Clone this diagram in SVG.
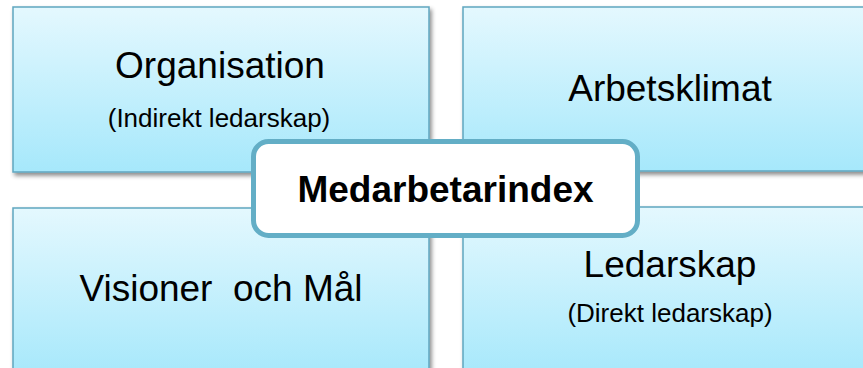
<svg xmlns="http://www.w3.org/2000/svg" width="863" height="368" viewBox="0 0 863 368">
<style>
.box{fill:url(#g);stroke:#5fa6c0;stroke-width:1.5;filter:url(#sh)}
.t{font-family:"Liberation Sans",Arial,sans-serif;fill:#000;text-anchor:middle}
.h{font-size:37px}
.s{font-size:26px}
.b{font-size:37px;font-weight:bold}
</style>
<defs>
<linearGradient id="g" x1="0" y1="0" x2="0" y2="1">
<stop offset="0" stop-color="#e4f8fe"/>
<stop offset="1" stop-color="#a6e8fb"/>
</linearGradient>
<filter id="sh" x="-5%" y="-5%" width="115%" height="120%">
<feDropShadow dx="2" dy="3" stdDeviation="2" flood-color="#000" flood-opacity="0.45"/>
</filter>
</defs>
<rect width="863" height="368" fill="#fff"/>
<g id="organisation">
<rect class="box" x="13" y="7" width="416" height="165"/>
<text class="t h" x="220" y="78">Organisation</text>
<text class="t s" x="219" y="127">(Indirekt ledarskap)</text>
</g>
<g id="arbetsklimat">
<rect class="box" x="463" y="7" width="410" height="164"/>
<text class="t h" x="670" y="101">Arbetsklimat</text>
</g>
<g id="visioner">
<rect class="box" x="13" y="208" width="416" height="170"/>
<text class="t h" x="221" y="301" xml:space="preserve" style="white-space:pre">Visioner  och Mål</text>
</g>
<g id="ledarskap">
<rect class="box" x="463" y="207" width="410" height="171"/>
<text class="t h" x="670" y="277">Ledarskap</text>
<text class="t s" x="670" y="322">(Direkt ledarskap)</text>
</g>
<g id="connectors"/>
<g id="medarbetarindex">
<rect x="253.5" y="141.5" width="384" height="94" rx="15" fill="#fff" stroke="#63aec6" stroke-width="5"/>
<text class="t b" x="445.5" y="202">Medarbetarindex</text>
</g>
</svg>
